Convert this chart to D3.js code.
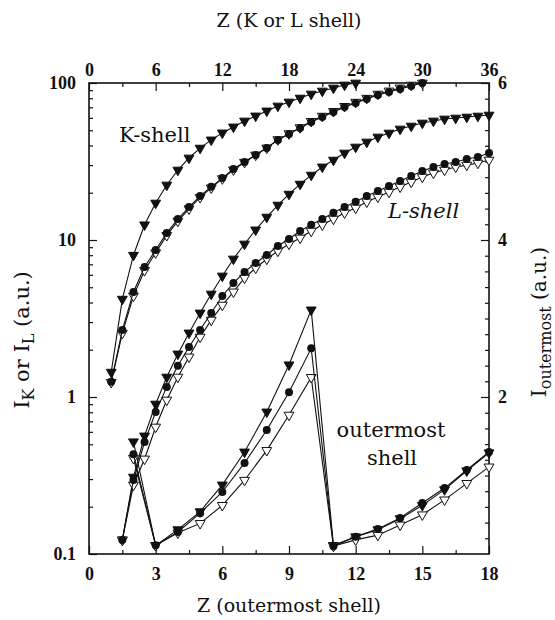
<!DOCTYPE html>
<html>
<head>
<meta charset="utf-8">
<script src="https://cdn.jsdelivr.net/npm/d3@7/dist/d3.min.js"></script>
<style>
  body { margin: 0; background: #fff; }
  text { font-family: "DejaVu Serif", "Liberation Serif", serif; fill: #111; }
  .tick text { font-family: "Liberation Serif", "DejaVu Serif", serif; }
</style>
</head>
<body>
<div id="container"></div>
<script>
/* CONSTANTS AND GLOBALS */
const width = 555,
  height = 620,
  margin = { top: 83, bottom: 66, left: 89, right: 66 }

/* DATA */
// K shell, vs Z (top axis), log left axis
const kTriZ = [2,3,4,5,6,7,8,9,10,11,12,13,14,15,16,17,18,19,20,21,22,23,24]
const kTri = [1.44,4.2,8.0,12.5,17.2,22.4,27.9,33.3,38.5,43.4,48.1,52.5,57.3,61.7,66.4,71.4,75.7,80.2,85.1,88.9,92.9,97.1,100]
const kZ = [2,3,4,5,6,7,8,9,10,11,12,13,14,15,16,17,18,19,20,21,22,23,24,25,26,27,28,29,30]
const kCirc = [1.25,2.67,4.67,6.73,8.63,11.1,13.6,16.2,19.1,21.8,24.8,28.3,31.4,34.8,38.5,43.4,47.3,51.6,56.4,60.7,65.3,70.3,74.6,79.1,83.9,87.7,91.6,95.7,100]
const kOpen = [1.24,2.55,4.4,6.4,8.3,10.7,13.2,15.8,18.7,21.5,24.6,28.0,31.3,34.8,38.6,43.6,47.6,52,57,61.5,66,71,75.5,80,85,89,93,97,100]

// L shell, vs Z (top axis), log left axis
const lZ = [3,4,5,6,7,8,9,10,11,12,13,14,15,16,17,18,19,20,21,22,23,24,25,26,27,28,29,30,31,32,33,34,35,36]
const lTri = [0.123,0.309,0.565,0.902,1.34,1.88,2.56,3.43,4.53,5.90,7.57,9.43,11.6,14.0,16.7,19.6,22.7,25.9,29.2,32.3,35.8,39.1,42.1,45.3,48.0,50.9,53.2,55.6,57.3,59.0,59.8,60.7,61.6,62.5]
const lCirc = [0.123,0.296,0.517,0.803,1.16,1.58,2.08,2.67,3.43,4.40,5.32,6.26,7.14,8.03,9.16,10.15,11.4,12.5,13.6,14.9,16.2,17.5,19.1,20.5,22.1,23.8,25.6,27.5,29.2,30.5,31.4,32.8,33.8,35.8]
const lOpen = [0.123,0.275,0.403,0.644,0.957,1.34,1.80,2.41,3.09,3.85,4.67,5.73,6.63,7.57,8.51,9.43,10.3,11.4,12.5,13.6,14.9,16.0,17.5,18.8,20.2,21.8,23.4,25.2,26.7,27.9,29.2,30.0,30.9,32.3]

// outermost shell, vs Z (bottom axis), linear right axis
const oZ = [2,3,4,5,6,7,8,9,10,11,12,13,14,15,16,17,18]
const oTri = [1.43,0.11,0.31,0.54,0.88,1.30,1.81,2.41,3.11,0.11,0.22,0.31,0.45,0.62,0.82,1.06,1.29]
const oCirc = [1.27,0.11,0.28,0.52,0.79,1.16,1.58,2.06,2.62,0.10,0.22,0.32,0.46,0.65,0.84,1.07,1.30]
const oOpen = [1.22,0.11,0.27,0.39,0.62,0.94,1.32,1.77,2.25,0.10,0.18,0.24,0.37,0.50,0.69,0.90,1.11]

// tick labels
const bottomTicks = [0,3,6,9,12,15,18]
const topTicks = [0,6,12,18,24,30,36]
const leftTicks = [0.1,1,10,100]
const rightTicks = [2,4,6]

// SCALES
const xBot = d3.scaleLinear().domain([0, 18]).range([margin.left, width - margin.right])
const xTop = d3.scaleLinear().domain([0, 36]).range([margin.left, width - margin.right])
const yLog = d3.scaleLog().domain([0.1, 100]).range([height - margin.bottom, margin.top])
const yLin = d3.scaleLinear().domain([0, 6]).range([height - margin.bottom, margin.top])

// CREATE SVG ELEMENT
const svg = d3.select("#container")
  .append("svg")
  .attr("width", width)
  .attr("height", height)
  .style("background-color", "white")

const x0 = margin.left, x1 = width - margin.right
const y0 = height - margin.bottom, y1 = margin.top

// BUILD AND CALL AXES (ticks point inward)
function styleAxis(g) {
  g.select(".domain").remove()
  g.attr("font-family", null)
  g.selectAll(".tick line").attr("stroke", "#111").attr("stroke-width", 1.2)
  g.selectAll(".tick text")
    .style("font-size", "18px")
    .style("font-weight", "bold")
}

svg.append("g")
  .attr("transform", `translate(0, ${y0})`)
  .call(d3.axisBottom(xBot).tickValues(bottomTicks).tickSizeInner(-8).tickSizeOuter(0).tickPadding(13))
  .call(styleAxis)
svg.append("g")
  .attr("transform", `translate(0, ${y0})`)
  .call(d3.axisBottom(xBot).tickValues(d3.range(1.5, 18, 3)).tickSize(-4).tickFormat(""))
  .call(styleAxis)

svg.append("g")
  .attr("transform", `translate(0, ${y1})`)
  .call(d3.axisTop(xTop).tickValues(topTicks).tickSizeInner(-8).tickSizeOuter(0).tickPadding(7))
  .call(styleAxis)
svg.append("g")
  .attr("transform", `translate(0, ${y1})`)
  .call(d3.axisTop(xTop).tickValues(d3.range(3, 36, 6)).tickSize(-4).tickFormat(""))
  .call(styleAxis)

svg.append("g")
  .attr("transform", `translate(${x0}, 0)`)
  .call(d3.axisLeft(yLog).tickValues(leftTicks).tickFormat(d => d).tickSizeInner(-8).tickSizeOuter(0).tickPadding(13))
  .call(styleAxis)
svg.append("g")
  .attr("transform", `translate(${x0}, 0)`)
  .call(d3.axisLeft(yLog).tickValues(yLog.ticks().filter(d => leftTicks.indexOf(d) < 0)).tickSize(-4).tickFormat(""))
  .call(styleAxis)

svg.append("g")
  .attr("transform", `translate(${x1}, 0)`)
  .call(d3.axisRight(yLin).tickValues(rightTicks).tickFormat(d3.format("d")).tickSizeInner(-8).tickSizeOuter(0).tickPadding(9))
  .call(styleAxis)
svg.append("g")
  .attr("transform", `translate(${x1}, 0)`)
  .call(d3.axisRight(yLin).tickValues(d3.range(1, 30).map(i => i * 0.2).filter(d => Math.abs(d % 2) > 0.01 && Math.abs(d % 2 - 2) > 0.01)).tickSize(-4).tickFormat(""))
  .call(styleAxis)

// FRAME
svg.append("rect")
  .attr("x", x0).attr("y", y1)
  .attr("width", x1 - x0).attr("height", y0 - y1)
  .attr("fill", "none")
  .attr("stroke", "#111")
  .attr("stroke-width", 1.6)

// SERIES
const series = [
  { xs: kTriZ, ys: kTri, x: xTop, y: yLog, mark: "tri" },
  { xs: kZ, ys: kOpen, x: xTop, y: yLog, mark: "open" },
  { xs: kZ, ys: kCirc, x: xTop, y: yLog, mark: "circ" },
  { xs: lZ, ys: lTri, x: xTop, y: yLog, mark: "tri" },
  { xs: lZ, ys: lOpen, x: xTop, y: yLog, mark: "open" },
  { xs: lZ, ys: lCirc, x: xTop, y: yLog, mark: "circ" },
  { xs: oZ, ys: oTri, x: xBot, y: yLin, mark: "tri" },
  { xs: oZ, ys: oOpen, x: xBot, y: yLin, mark: "open" },
  { xs: oZ, ys: oCirc, x: xBot, y: yLin, mark: "circ" }
]

const triPath = d3.symbol().type(d3.symbolTriangle).size(42)

series.forEach(s => {
  const pts = s.xs.map((z, i) => [s.x(z), s.y(s.ys[i])])

  // LINE
  svg.append("path")
    .datum(pts)
    .attr("d", d3.line())
    .attr("fill", "none")
    .attr("stroke", "#111")
    .attr("stroke-width", 1.1)

  // MARKERS
  const g = svg.append("g")
  if (s.mark === "circ") {
    g.selectAll("circle").data(pts).join("circle")
      .attr("cx", d => d[0]).attr("cy", d => d[1])
      .attr("r", 4)
      .attr("fill", "#111")
  } else {
    g.selectAll("path").data(pts).join("path")
      .attr("d", triPath)
      .attr("transform", d => `translate(${d[0]}, ${d[1]}) rotate(180)`)
      .attr("fill", s.mark === "tri" ? "#111" : "white")
      .attr("stroke", "#111")
      .attr("stroke-width", 1)
  }
})

// AXES LABELS
svg.append("text")
  .attr("text-anchor", "middle")
  .attr("x", 289).attr("y", 27)
  .style("font-size", "19px")
  .text("Z (K or L shell)")

svg.append("text")
  .attr("text-anchor", "middle")
  .attr("x", 289).attr("y", 612)
  .style("font-size", "19px")
  .text("Z (outermost shell)")

const leftLabel = svg.append("text")
  .attr("text-anchor", "middle")
  .attr("transform", "translate(29, 340) rotate(-90)")
  .style("font-size", "21px")
leftLabel.append("tspan").text("I")
leftLabel.append("tspan").attr("dy", 5).style("font-size", "16px").text("K")
leftLabel.append("tspan").attr("dy", -5).text(" or I")
leftLabel.append("tspan").attr("dy", 5).style("font-size", "16px").text("L")
leftLabel.append("tspan").attr("dy", -5).text(" (a.u.)")

const rightLabel = svg.append("text")
  .attr("text-anchor", "middle")
  .attr("transform", "translate(546, 322) rotate(-90)")
  .style("font-size", "20px")
rightLabel.append("tspan").text("I")
rightLabel.append("tspan").attr("dy", 5).style("font-size", "16px").text("outermost")
rightLabel.append("tspan").attr("dy", -5).text(" (a.u.)")

// CURVE NAMES
svg.append("text")
  .attr("x", 119).attr("y", 142)
  .style("font-size", "21px")
  .text("K-shell")

svg.append("text")
  .attr("x", 388).attr("y", 218)
  .style("font-size", "21px")
  .style("font-style", "italic")
  .text("L-shell")

svg.append("text")
  .attr("text-anchor", "middle")
  .attr("x", 391).attr("y", 437)
  .style("font-size", "21px")
  .text("outermost")

svg.append("text")
  .attr("text-anchor", "middle")
  .attr("x", 392).attr("y", 465)
  .style("font-size", "21px")
  .text("shell")
</script>
</body>
</html>
